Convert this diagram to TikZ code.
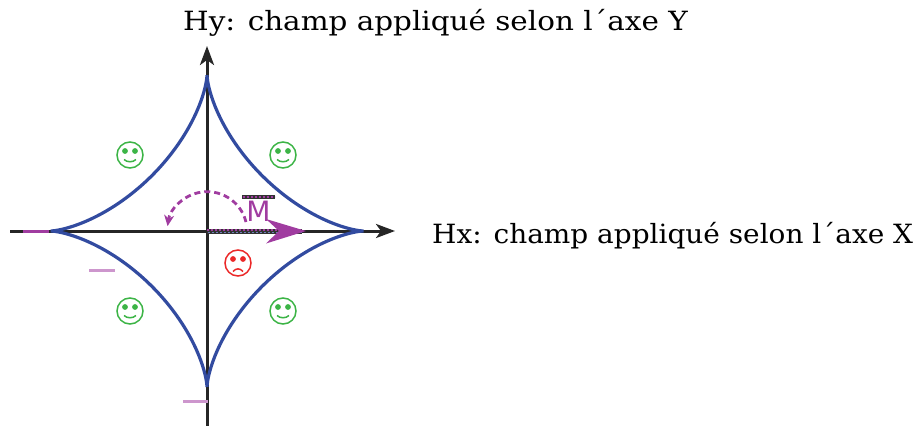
\documentclass[tikz,border=0pt]{standalone}
\usepackage{fontspec}
\setmainfont{DejaVu Serif}
\setsansfont{DejaVu Sans}
\usetikzlibrary{arrows.meta}
\definecolor{astro}{RGB}{50,75,160}
\definecolor{happy}{RGB}{60,180,70}
\definecolor{sad}{RGB}{235,40,40}
\definecolor{mag}{RGB}{160,60,160}
\definecolor{lmag}{RGB}{205,150,205}
\tikzset{
  axisline/.style={line width=3pt, black!85, -{Stealth[length=19pt,width=14pt,inset=5pt]}},
  curve/.style={line width=3.2pt, astro},
  lbl/.style={font=\fontsize{26.5}{28}\selectfont, anchor=base west, inner sep=0pt},
  tick/.style={line width=3pt, lmag},
  face/.pic={
    \draw[line width=1.5pt] (0,0) circle (13);
    \fill (-5,-4) circle (2.9);
    \fill (5,-4) circle (2.9);
  },
  smile/.pic={\draw[line width=1.5pt] (-6,4.5) .. controls (-3,7.5) and (3,7.5) .. (6,4.5);},
  frown/.pic={\draw[line width=1.5pt] (-5,8.5) .. controls (-2,5) and (2,5) .. (5,8.5);}
}
\begin{document}
\begin{tikzpicture}[x=1pt,y=-1pt]
\useasboundingbox (0,0) rectangle (919,426);
% axes
\coordinate (xs) at (10,231);
\coordinate (xe) at (395,231);
\coordinate (ys) at (207,426);
\coordinate (ye) at (207,46);
\draw[axisline] (xs) -- (xe);
\draw[axisline] (ys) -- (ye);
% astroid
\draw[curve] plot[domain=0:360, samples=240, smooth, variable=\t]
  ({207+156.5*cos(\t)^3},{231+156*sin(\t)^3});
% ticks
\draw[tick, mag] (23,231) -- (49,231);
\draw[tick] (89,270) -- (115,270);
\draw[tick] (183,401) -- (208,401);
% faces
\begin{scope}[happy]
\pic at (130,155) {face}; \pic at (130,155) {smile};
\pic at (283,155) {face}; \pic at (283,155) {smile};
\pic at (130,311) {face}; \pic at (130,311) {smile};
\pic at (283,311) {face}; \pic at (283,311) {smile};
\end{scope}
\begin{scope}[sad]
\pic at (238,263) {face}; \pic at (238,263) {frown};
\end{scope}
% dashed rotation arc
\draw[mag, line width=2.8pt, dash pattern=on 6pt off 4pt, -{Stealth[length=11pt,width=10pt]}]
  (246,222) arc[start angle=-14, end angle=-172, radius=40];
% M vector
\draw[line width=5pt, black!80] (207,231) -- (302,231);
\draw[line width=2pt, mag, dash pattern=on 2pt off 2pt] (207,229.8) -- (302,229.8);
\draw[line width=1.5pt, astro!70, dash pattern=on 2pt off 2pt] (208,232.6) -- (302,232.6);
\fill[mag] (306,231) -- (266,219) -- (279,231) -- (266,243.5) -- cycle;
\node[mag, font=\sffamily\fontsize{28}{29}\selectfont, inner sep=0pt] (M) at (258.5,211.5) {M};
\draw[line width=4pt, black!80] (242,197) -- (275,197);
\draw[line width=1.3pt, mag, dash pattern=on 2pt off 2pt] (243,197) -- (275,197);
% labels
\node[lbl] (hy) at (183,30) {\scalebox{1.11}[1]{Hy: champ appliqué selon l´axe Y}};
\node[lbl] (hx) at (432,243) {\scalebox{1.055}[1]{Hx: champ appliqué selon l´axe X}};
\end{tikzpicture}
\end{document}
